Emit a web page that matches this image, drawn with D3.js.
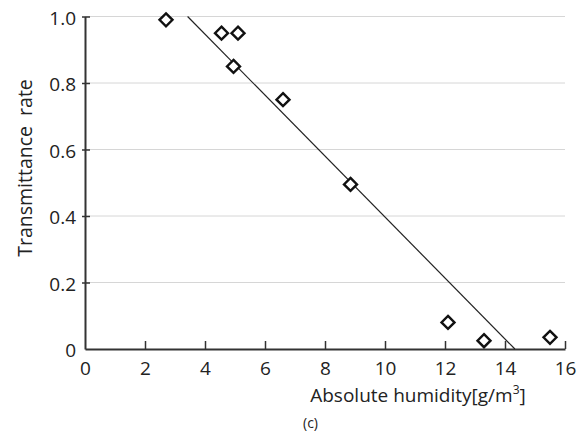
<!DOCTYPE html>
<html>
<head>
<meta charset="utf-8">
<script src="https://cdn.jsdelivr.net/npm/d3@7"></script>
<style>
  html, body { margin: 0; padding: 0; background: #fff; }
  svg { display: block; font-family: "Open Sans", "DejaVu Sans", sans-serif; }
</style>
</head>
<body>
<svg id="chart" width="585" height="441"></svg>
<script>
// Data
const humidity = [2.7, 4.55, 5.1, 4.95, 6.6, 8.85, 12.1, 13.3, 15.5];
const transmittance = [0.99, 0.95, 0.95, 0.85, 0.75, 0.495, 0.08, 0.025, 0.035];
const trendX = [3.42, 14.33];
const trendY = [1.0, 0.0];
const xTicks = [0, 2, 4, 6, 8, 10, 12, 14, 16];
const yTicks = [0, 0.2, 0.4, 0.6, 0.8, 1.0];
const yTickLabels = ["0", "0.2", "0.4", "0.6", "0.8", "1.0"];

(function () {
const svg = d3.select("#chart");
const mLeft = 85, mRight = 565, mTop = 16.5, mBottom = 349;

const x = d3.scaleLinear().domain([0, 16]).range([mLeft, mRight]);
const y = d3.scaleLinear().domain([0, 1]).range([mBottom, mTop]);

// gridlines
svg.append("g").selectAll("line").data(yTicks.filter(d => d > 0)).join("line")
  .attr("x1", mLeft).attr("x2", mRight)
  .attr("y1", d => y(d)).attr("y2", d => y(d))
  .attr("stroke", "#d6d6d6").attr("stroke-width", 1);

// x axis
const xAxis = svg.append("g").attr("transform", `translate(0,${mBottom})`)
  .call(d3.axisBottom(x).tickValues(xTicks).tickSize(-8).tickPadding(13).tickSizeOuter(0));
xAxis.select(".domain").attr("stroke", "#333").attr("stroke-width", 2);
xAxis.selectAll(".tick line").attr("stroke", "#333").attr("stroke-width", 1.5)
  .filter(d => d === 0).remove();
xAxis.selectAll(".tick text").attr("font-size", 19).attr("fill", "#222")
  .attr("font-family", "Open Sans");

// y axis
const yAxis = svg.append("g").attr("transform", `translate(${mLeft},0)`)
  .call(d3.axisLeft(y).tickValues(yTicks).tickFormat((d, i) => yTickLabels[i])
    .tickSize(-6).tickPadding(9).tickSizeOuter(0));
yAxis.select(".domain").attr("stroke", "#333").attr("stroke-width", 2);
yAxis.selectAll(".tick line").attr("stroke", "#333").attr("stroke-width", 1.5)
  .attr("x1", -3).attr("x2", 5);
yAxis.selectAll(".tick line").filter(d => d === 0).remove();
yAxis.selectAll(".tick text").attr("font-size", 19).attr("fill", "#222")
  .attr("font-family", "Open Sans").attr("dy", "0.4em");

// trend line
svg.append("line")
  .attr("x1", x(trendX[0])).attr("y1", y(trendY[0]))
  .attr("x2", x(trendX[1])).attr("y2", y(trendY[1]))
  .attr("stroke", "#222").attr("stroke-width", 1.2);

// markers
const pts = humidity.map((h, i) => ({h, t: transmittance[i]}));
svg.append("g").selectAll("path").data(pts).join("path")
  .attr("transform", d => `translate(${x(d.h)},${y(d.t)})`)
  .attr("d", "M0,-6.5L6.5,0L0,6.5L-6.5,0Z")
  .attr("fill", "#fff").attr("stroke", "#111").attr("stroke-width", 2.4);

// axis labels
const xl = svg.append("text").attr("x", 418).attr("y", 402)
  .attr("text-anchor", "middle").attr("font-size", 19).attr("fill", "#222");
xl.append("tspan").text("Absolute humidity[g/m");
xl.append("tspan").text("3").attr("font-size", 12).attr("dy", -8);
xl.append("tspan").text("]").attr("dy", 8);

svg.append("text")
  .attr("transform", "translate(32,168) rotate(-90)")
  .attr("text-anchor", "middle").attr("font-size", 19.5).attr("fill", "#222")
  .style("white-space", "pre")
  .text("Transmittance  rate");

svg.append("text").attr("x", 310.5).attr("y", 428)
  .attr("text-anchor", "middle").attr("font-size", 14).attr("fill", "#222")
  .text("(c)");
})();
</script>
</body>
</html>
